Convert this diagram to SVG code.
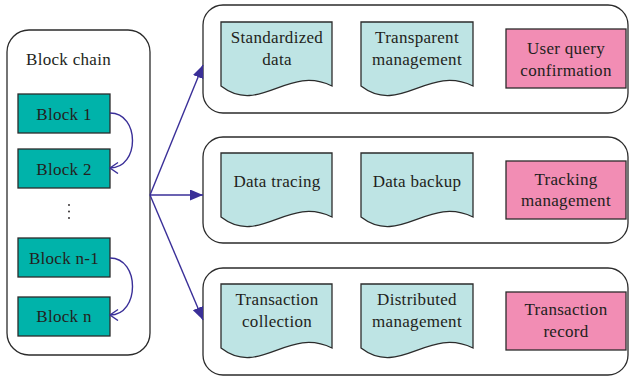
<svg xmlns="http://www.w3.org/2000/svg" width="630" height="377" viewBox="0 0 630 377">
<defs>
<style>
.container{fill:#fff;stroke:#2b2b2b;stroke-width:1.3}
.block{fill:#00b3aa;stroke:#2b2b2b;stroke-width:1.3}
.doc{fill:#bee4e4;stroke:#2b2b2b;stroke-width:1.3}
.pink{fill:#f28db4;stroke:#2b2b2b;stroke-width:1.3}
text{font-family:"Liberation Serif","Times New Roman",serif;font-size:17px;fill:#231f20;text-anchor:middle;letter-spacing:0.3px}
.conn{fill:none;stroke:#3a2f98;stroke-width:1.4}
</style>
<marker id="tri" markerUnits="userSpaceOnUse" markerWidth="14" markerHeight="12" refX="13" refY="5.5" orient="auto">
<path d="M0,0 L13,5.5 L0,11 z" fill="#3a2f98"/>
</marker>
<marker id="chev" markerUnits="userSpaceOnUse" markerWidth="12" markerHeight="14" refX="9" refY="6" orient="auto">
<path d="M1,0.5 L9,6 L1,11.5" fill="none" stroke="#3a2f98" stroke-width="1.4"/>
</marker>
</defs>

<g id="blockchain">
<rect class="container" x="7" y="30" width="143" height="325" rx="22"/>
<text x="26" y="65" style="text-anchor:start">Block chain</text>
</g>
<g id="block1"><rect class="block" x="18" y="94" width="92" height="39"/><text x="64" y="120">Block 1</text></g>
<g id="block2"><rect class="block" x="18" y="149" width="92" height="39"/><text x="64" y="175">Block 2</text></g>
<g id="dots" fill="#231f20"><circle cx="69" cy="205" r="0.9"/><circle cx="69" cy="211.5" r="0.9"/><circle cx="69" cy="218" r="0.9"/></g>
<g id="blockn1"><rect class="block" x="18" y="238" width="92" height="39"/><text x="64" y="264">Block n-1</text></g>
<g id="blockn"><rect class="block" x="18" y="297" width="92" height="39"/><text x="64" y="322">Block n</text></g>

<g id="row1">
<rect class="container" x="203" y="5" width="425" height="108" rx="20"/>
<g id="standardized"><path class="doc" d="M221,22 H332 V86 C287.6,64 259.9,116 221,86 Z"/><text x="277" y="43">Standardized</text><text x="277" y="65">data</text></g>
<g id="transparent"><path class="doc" d="M361,22 H473 V86 C428.2,64 400.2,116 361,86 Z"/><text x="417" y="43">Transparent</text><text x="417" y="65">management</text></g>
<g id="userquery"><rect class="pink" x="506" y="29" width="120" height="59"/><text x="566" y="54">User query</text><text x="566" y="76">confirmation</text></g>
</g>

<g id="row2">
<rect class="container" x="203" y="137" width="425" height="106" rx="20"/>
<g id="datatracing"><path class="doc" d="M221,153 H332 V217 C287.6,195 259.9,247 221,217 Z"/><text x="277" y="187">Data tracing</text></g>
<g id="databackup"><path class="doc" d="M361,153 H473 V217 C428.2,195 400.2,247 361,217 Z"/><text x="417" y="187">Data backup</text></g>
<g id="tracking"><rect class="pink" x="506" y="161" width="120" height="58"/><text x="566" y="185">Tracking</text><text x="566" y="206">management</text></g>
</g>

<g id="row3">
<rect class="container" x="203" y="268" width="425" height="107" rx="20"/>
<g id="txcollection"><path class="doc" d="M221,284 H332 V348 C287.6,326 259.9,378 221,348 Z"/><text x="277" y="305">Transaction</text><text x="277" y="327">collection</text></g>
<g id="distributed"><path class="doc" d="M361,284 H473 V348 C428.2,326 400.2,378 361,348 Z"/><text x="417" y="305">Distributed</text><text x="417" y="327">management</text></g>
<g id="txrecord"><rect class="pink" x="506" y="292" width="120" height="58"/><text x="566" y="315">Transaction</text><text x="566" y="337">record</text></g>
</g>

<g id="connectors">
<path class="conn" d="M110,113 C140,113 140,168 110,168" marker-end="url(#chev)"/>
<path class="conn" d="M110,258 C140,258 140,315 110,315" marker-end="url(#chev)"/>
<line class="conn" x1="150" y1="195" x2="203" y2="65" marker-end="url(#tri)"/>
<line class="conn" x1="150" y1="195" x2="203" y2="195" marker-end="url(#tri)"/>
<line class="conn" x1="150" y1="195" x2="203" y2="320" marker-end="url(#tri)"/>
</g>
</svg>
